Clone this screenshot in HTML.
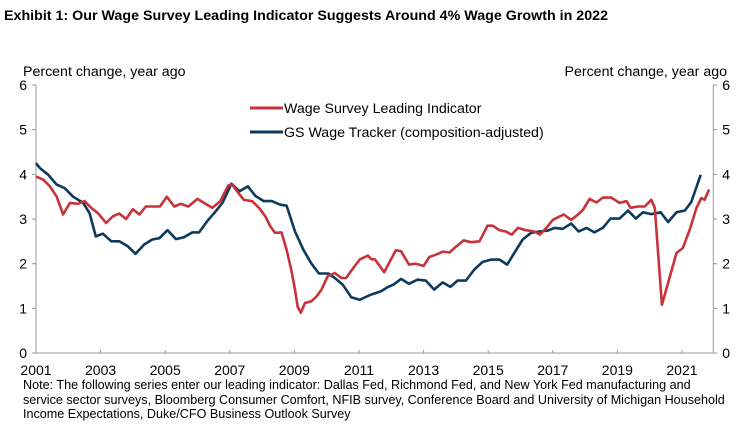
<!DOCTYPE html>
<html><head><meta charset="utf-8">
<style>
body{margin:0;background:#fff;width:748px;height:428px;overflow:hidden;font-family:"Liberation Sans",Arial,sans-serif}
svg text{font-family:"Liberation Sans",Arial,sans-serif;fill:#000}
</style></head>
<body>
<svg id="chart" width="748" height="428" xmlns="http://www.w3.org/2000/svg">
<text x="4" y="20" font-size="14" font-weight="bold" textLength="604" lengthAdjust="spacingAndGlyphs">Exhibit 1: Our Wage Survey Leading Indicator Suggests Around 4% Wage Growth in 2022</text>
<text x="23" y="76" font-size="14.2">Percent change, year ago</text>
<text x="727" y="76" font-size="14.2" text-anchor="end">Percent change, year ago</text>
<g id="axes"></g>
<g id="series"></g>
<g>
<line x1="250" y1="108" x2="283" y2="108" stroke="#c8323a" stroke-width="3"/>
<text x="284" y="113" font-size="14.2">Wage Survey Leading Indicator</text>
<line x1="250" y1="132" x2="283" y2="132" stroke="#0d3a5c" stroke-width="3"/>
<text x="284" y="137" font-size="14.2">GS Wage Tracker (composition-adjusted)</text>
</g>
<g font-size="12.6">
<text x="23" y="389">Note: The following series enter our leading indicator: Dallas Fed, Richmond Fed, and New York Fed manufacturing and</text>
<text x="23" y="404">service sector surveys, Bloomberg Consumer Comfort, NFIB survey, Conference Board and University of Michigan Household</text>
<text x="23" y="418">Income Expectations, Duke/CFO Business Outlook Survey</text>
</g>
</svg>
<script>
const yTicks=[0,1,2,3,4,5,6];
const xTickYears=[2001,2003,2005,2007,2009,2011,2013,2015,2017,2019,2021];
const wageYears=[2001,2001.23,2001.43,2001.64,2001.84,2002.05,2002.3,2002.5,2002.71,2002.92,2003.17,2003.38,2003.58,2003.79,2004.0,2004.2,2004.4,2004.6,2004.84,2005.05,2005.28,2005.48,2005.72,2006.0,2006.2,2006.46,2006.71,2006.95,2007.07,2007.23,2007.43,2007.69,2007.9,2008.1,2008.25,2008.4,2008.6,2008.76,2008.9,2009.02,2009.1,2009.2,2009.33,2009.53,2009.69,2009.84,2010.03,2010.25,2010.46,2010.6,2010.82,2011.02,2011.28,2011.38,2011.5,2011.78,2012.14,2012.3,2012.55,2012.76,2013.0,2013.18,2013.38,2013.6,2013.8,2014.0,2014.24,2014.47,2014.73,2014.98,2015.14,2015.35,2015.55,2015.73,2015.92,2016.17,2016.43,2016.6,2016.8,2017.0,2017.19,2017.34,2017.57,2017.78,2017.93,2018.14,2018.35,2018.55,2018.81,2019.07,2019.28,2019.41,2019.64,2019.85,2020.05,2020.16,2020.38,2020.57,2020.83,2021.03,2021.24,2021.45,2021.6,2021.7,2021.84];
const wageValues=[3.95,3.88,3.73,3.5,3.1,3.36,3.34,3.4,3.25,3.13,2.91,3.06,3.12,3.0,3.22,3.1,3.28,3.28,3.28,3.5,3.28,3.34,3.28,3.45,3.36,3.25,3.4,3.75,3.77,3.62,3.43,3.4,3.25,3.06,2.84,2.69,2.7,2.31,1.87,1.42,1.04,0.9,1.12,1.16,1.27,1.42,1.72,1.79,1.68,1.68,1.9,2.09,2.18,2.1,2.09,1.81,2.3,2.28,1.98,2.0,1.95,2.15,2.2,2.27,2.25,2.38,2.52,2.48,2.5,2.85,2.85,2.75,2.72,2.65,2.8,2.75,2.72,2.65,2.8,2.98,3.05,3.1,2.98,3.1,3.2,3.45,3.37,3.48,3.48,3.36,3.4,3.25,3.28,3.28,3.43,3.25,1.08,1.57,2.24,2.35,2.76,3.25,3.47,3.43,3.66];
const gsYears=[2001,2001.12,2001.38,2001.64,2001.89,2002.15,2002.46,2002.66,2002.85,2003.07,2003.33,2003.58,2003.84,2004.08,2004.35,2004.6,2004.82,2005.07,2005.33,2005.58,2005.84,2006.05,2006.3,2006.56,2006.78,2007.05,2007.3,2007.56,2007.79,2008.05,2008.3,2008.56,2008.76,2009.02,2009.28,2009.53,2009.76,2010.05,2010.25,2010.5,2010.76,2011.02,2011.38,2011.68,2011.88,2012.09,2012.3,2012.55,2012.81,2013.07,2013.33,2013.59,2013.83,2014.05,2014.31,2014.57,2014.83,2015.09,2015.35,2015.59,2015.81,2016.07,2016.33,2016.59,2016.85,2017.05,2017.31,2017.57,2017.8,2018.04,2018.29,2018.55,2018.79,2019.07,2019.33,2019.57,2019.79,2020.05,2020.34,2020.57,2020.83,2021.09,2021.29,2021.58];
const gsValues=[4.25,4.14,3.99,3.77,3.69,3.5,3.36,3.13,2.61,2.67,2.5,2.5,2.39,2.22,2.43,2.54,2.57,2.75,2.55,2.59,2.7,2.7,2.95,3.17,3.37,3.79,3.62,3.73,3.52,3.4,3.4,3.32,3.3,2.72,2.31,2.0,1.78,1.78,1.68,1.53,1.25,1.19,1.31,1.38,1.47,1.54,1.66,1.55,1.64,1.62,1.42,1.58,1.48,1.62,1.62,1.87,2.04,2.09,2.09,1.98,2.24,2.54,2.69,2.72,2.74,2.8,2.78,2.9,2.72,2.8,2.7,2.8,3.01,3.01,3.19,3.01,3.15,3.11,3.15,2.93,3.15,3.19,3.38,3.99];

const NS='http://www.w3.org/2000/svg';
const X0=36,X1=713.3,Y0=353,Y1=85;
const xS=y=>X0+(y-2001)/(2021.97-2001)*(X1-X0);
const yS=v=>Y0-v/6*(Y0-Y1);
function mk(tag,attrs,parent){const e=document.createElementNS(NS,tag);for(const k in attrs)e.setAttribute(k,attrs[k]);parent.appendChild(e);return e;}
const axes=document.getElementById('axes');
const g=document.getElementById('series');
let e;
e=mk('line',{x1:X0,y1:Y1,x2:X0,y2:Y0,stroke:'#999','stroke-width':1},axes);


e=mk('line',{x1:X1,y1:Y1,x2:X1,y2:Y0,stroke:'#999','stroke-width':1},axes);


e=mk('line',{x1:X0-4,y1:Y0,x2:X1,y2:Y0,stroke:'#999','stroke-width':1},axes);


yTicks.forEach(t=>{
  const y=yS(t);
  mk('line',{x1:X0-4,y1:y,x2:X0,y2:y,stroke:'#999'},axes);
  mk('line',{x1:X1,y1:y,x2:X1+4,y2:y,stroke:'#999'},axes);
  e=mk('text',{x:X0-9,y:y+5,'font-size':14,'text-anchor':'end'},axes);e.textContent=t;
  
  
  e=mk('text',{x:X1+9,y:y+5,'font-size':14},axes);e.textContent=t;
  
  
});
xTickYears.forEach(t=>{
  const x=xS(t);
  mk('line',{x1:x,y1:Y0,x2:x,y2:Y0-3,stroke:'#999'},axes);
  e=mk('text',{x:x,y:375,'font-size':14,'text-anchor':'middle'},axes);e.textContent=t;
  
  
});
function line(xs,vs,color){
  return mk('path',{d:xs.map((x,i)=>(i?'L':'M')+xS(x).toFixed(1)+','+yS(vs[i]).toFixed(1)).join(''),fill:'none',stroke:color,'stroke-width':2.6,'stroke-linejoin':'round'},g);
}
e=line(gsYears,gsValues,'#0d3a5c');


e=line(wageYears,wageValues,'#c8323a');


</script>
</body></html>
